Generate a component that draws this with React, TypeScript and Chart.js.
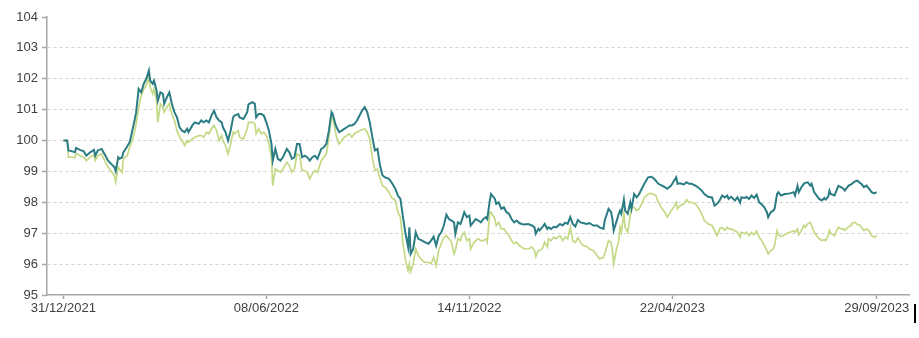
import React, { useEffect, useRef } from "react";
import { Chart, registerables } from "chart.js";

Chart.register(...registerables);

// Days elapsed since 31/12/2021
const dayOffsets = [
  0, 3, 4, 7, 9, 10, 13, 16, 18, 21,
  24, 25, 27, 30, 31, 33, 35, 38, 40, 41,
  43, 44, 46, 47, 50, 52, 54, 56, 57, 59,
  61, 63, 65, 67, 68, 70, 71, 73, 74, 76,
  78, 79, 81, 83, 85, 87, 89, 91, 93, 95,
  97, 98, 101, 103, 106, 108, 110, 112, 114, 116,
  118, 120, 122, 124, 125, 127, 129, 131, 133, 134,
  137, 138, 141, 144, 145, 148, 150, 151, 153, 155,
  157, 159, 161, 163, 164, 166, 168, 170, 172, 175,
  177, 179, 181, 183, 185, 187, 189, 191, 193, 195,
  197, 199, 202, 204, 206, 208, 210, 211, 213, 214,
  216, 218, 220, 222, 224, 226, 228, 230, 232, 234,
  236, 238, 240, 242, 244, 246, 248, 250, 252, 255,
  257, 260, 262, 264, 266, 268, 270, 271, 272, 274,
  276, 278, 281, 283, 286, 288, 290, 292, 294, 296,
  298, 300, 302, 304, 306, 307, 309, 311, 312, 314,
  316, 318, 319, 321, 323, 325, 327, 329, 331, 332,
  334, 335, 338, 339, 341, 343, 345, 347, 349, 351,
  353, 355, 357, 359, 361, 364, 367, 369, 370, 372,
  373, 375, 377, 379, 380, 382, 384, 386, 389, 391,
  393, 395, 397, 399, 401, 403, 405, 407, 410, 412,
  415, 418, 420, 423, 424, 427, 429, 430, 431, 433,
  435, 436, 437, 439, 440, 442, 444, 445, 447, 449,
  451, 453, 455, 458, 460, 462, 464, 466, 469, 471,
  473, 476, 478, 480, 481, 483, 486, 488, 490, 492,
  495, 497, 500, 502, 505, 508, 510, 512, 514, 516,
  518, 520, 521, 523, 526, 528, 530, 531, 534, 535,
  537, 539, 541, 543, 545, 547, 549, 551, 552, 554,
  556, 557, 559, 560, 562, 565, 566, 569, 572, 573,
  575, 576, 578, 580, 581, 583, 585, 586, 588, 590,
  592, 594, 596, 597, 599, 600, 601, 604, 605, 607,
  609, 611, 612, 615, 617, 618, 620, 622, 624, 625,
  627, 629, 631, 633, 635, 637,
];

const tealSeries = [
  100.0, 100.0, 99.68, 99.65, 99.62, 99.76, 99.70, 99.65, 99.51, 99.62,
  99.70, 99.51, 99.68, 99.73, 99.65, 99.51, 99.35, 99.22, 99.14, 99.01,
  99.46, 99.41, 99.46, 99.62, 99.81, 99.95, 100.32, 100.70, 100.92, 101.67,
  101.56, 101.84, 102.0, 102.27, 101.94, 101.84, 101.94, 101.62, 101.29, 101.56,
  101.51, 101.19, 101.40, 101.56, 101.19, 100.92, 100.75, 100.43, 100.32, 100.27,
  100.38, 100.27, 100.49, 100.59, 100.54, 100.65, 100.59, 100.65, 100.59, 100.81,
  100.97, 100.75, 100.65, 100.59, 100.43, 100.27, 100.0, 100.32, 100.75, 100.81,
  100.86, 100.75, 100.70, 100.92, 101.17, 101.24, 101.19, 100.75, 100.86, 100.86,
  100.81, 100.59, 100.32, 99.89, 99.35, 99.73, 99.41, 99.35, 99.46, 99.73,
  99.62, 99.41, 99.46, 99.89, 99.89, 99.46, 99.51, 99.46, 99.35, 99.46,
  99.51, 99.41, 99.73, 99.78, 99.89, 100.32, 100.92, 100.86, 100.54, 100.43,
  100.27, 100.32, 100.38, 100.43, 100.49, 100.49, 100.54, 100.65, 100.81, 100.97,
  101.08, 100.92, 100.59, 100.11, 99.68, 99.73, 99.19, 98.87, 98.81, 98.76,
  98.65, 98.44, 98.22, 98.11, 97.52, 96.98, 96.55, 97.19, 96.33, 96.49,
  97.03, 96.82, 96.76, 96.71, 96.66, 96.76, 96.89, 96.60, 96.92, 97.03,
  97.25, 97.60, 97.46, 97.41, 97.35, 96.98, 97.35, 97.30, 97.41, 97.68,
  97.52, 97.57, 97.25, 97.35, 97.46, 97.41, 97.35, 97.46, 97.52, 97.46,
  98.06, 98.27, 98.11, 97.95, 98.0, 97.79, 97.84, 97.68, 97.63, 97.46,
  97.35, 97.41, 97.33, 97.30, 97.28, 97.30, 97.25, 97.19, 96.98, 97.14,
  97.09, 97.19, 97.30, 97.14, 97.19, 97.14, 97.21, 97.19, 97.30, 97.25,
  97.34, 97.30, 97.52, 97.30, 97.22, 97.43, 97.35, 97.33, 97.30, 97.33,
  97.25, 97.25, 97.19, 97.14, 97.41, 97.79, 97.68, 97.46, 97.09, 97.35,
  97.63, 97.73, 97.63, 98.09, 97.73, 97.63, 98.0, 97.79, 98.27, 98.16,
  98.27, 98.44, 98.60, 98.81, 98.83, 98.79, 98.70, 98.60, 98.54, 98.49,
  98.44, 98.54, 98.68, 98.81, 98.60, 98.62, 98.58, 98.65, 98.60, 98.60,
  98.54, 98.49, 98.38, 98.27, 98.18, 98.16, 97.89, 97.95, 98.06, 98.22,
  98.16, 98.22, 98.11, 98.18, 98.06, 98.16, 97.99, 98.16, 98.14, 98.18,
  98.11, 98.22, 98.14, 98.25, 98.0, 97.93, 97.84, 97.68, 97.52, 97.68,
  97.73, 97.79, 98.27, 98.33, 98.22, 98.27, 98.27, 98.29, 98.33, 98.22,
  98.53, 98.33, 98.49, 98.60, 98.63, 98.65, 98.54, 98.60, 98.33, 98.22,
  98.11, 98.06, 98.14, 98.09, 98.18, 98.38, 98.27, 98.22, 98.33, 98.53,
  98.49, 98.44, 98.38, 98.54, 98.58, 98.62, 98.68, 98.70, 98.62, 98.60,
  98.49, 98.54, 98.44, 98.33, 98.29, 98.33,
];

const greenSeries = [
  100.0, 100.0, 99.46, 99.46, 99.44, 99.59, 99.51, 99.46, 99.35, 99.46,
  99.54, 99.35, 99.51, 99.57, 99.46, 99.30, 99.14, 98.97, 98.87, 98.65,
  99.14, 99.08, 98.97, 99.41, 99.51, 99.78, 100.0, 100.32, 100.54, 101.08,
  101.45, 101.67, 101.78, 102.05, 101.73, 101.51, 101.67, 101.29, 100.59, 101.19,
  101.08, 100.92, 101.08, 101.19, 100.86, 100.65, 100.32, 100.11, 100.0, 99.84,
  100.0, 99.95, 100.05, 100.11, 100.16, 100.16, 100.11, 100.27, 100.22, 100.38,
  100.49, 100.32, 100.0, 100.16, 100.0, 99.84, 99.57, 99.89, 100.27, 100.22,
  100.32, 100.11, 100.05, 100.38, 100.59, 100.59, 100.54, 100.22, 100.38, 100.22,
  100.27, 100.16, 99.89, 99.46, 98.54, 99.08, 99.03, 98.97, 99.08, 99.30,
  99.19, 98.97, 99.08, 99.57, 99.51, 99.03, 99.03, 98.97, 98.76, 98.92,
  99.03, 98.97, 99.35, 99.46, 99.57, 100.11, 100.75, 100.75, 100.32, 100.11,
  99.89, 100.0, 100.11, 100.16, 100.22, 100.11, 100.22, 100.27, 100.32, 100.35,
  100.38, 100.27, 100.05, 99.46, 99.03, 99.08, 98.76, 98.54, 98.49, 98.33,
  98.16, 98.06, 97.68, 97.52, 96.66, 96.12, 95.79, 96.01, 95.75, 96.01,
  96.49, 96.28, 96.12, 96.06, 96.06, 96.01, 96.22, 95.95, 96.44, 96.66,
  96.87, 96.92, 96.82, 96.71, 96.33, 96.44, 96.82, 96.76, 96.92, 97.03,
  96.76, 96.82, 96.49, 96.66, 96.76, 96.82, 96.76, 96.76, 96.82, 96.71,
  97.68, 97.68, 97.46, 97.25, 97.35, 97.14, 97.14, 97.03, 96.92, 96.76,
  96.66, 96.71, 96.60, 96.55, 96.49, 96.49, 96.55, 96.44, 96.24, 96.44,
  96.44, 96.49, 96.71, 96.55, 96.82, 96.76, 96.87, 96.82, 96.92, 96.76,
  96.88, 96.82, 97.19, 96.76, 96.70, 96.85, 96.71, 96.60, 96.57, 96.49,
  96.44, 96.28, 96.17, 96.22, 96.33, 96.76, 96.71, 96.44, 96.01, 96.44,
  96.76, 97.19, 97.03, 97.63, 97.19, 97.03, 97.57, 97.84, 97.84, 97.73,
  97.79, 97.95, 98.16, 98.27, 98.29, 98.27, 98.22, 98.0, 97.79, 97.68,
  97.52, 97.73, 97.84, 98.0, 97.79, 97.89, 97.95, 98.09, 98.0, 98.0,
  97.95, 97.84, 97.63, 97.41, 97.30, 97.25, 97.09, 96.92, 97.14, 97.19,
  97.09, 97.19, 97.14, 97.14, 97.08, 97.03, 96.87, 97.03, 96.98, 97.03,
  96.92, 97.03, 96.95, 97.08, 96.87, 96.76, 96.60, 96.44, 96.33, 96.44,
  96.49, 96.60, 97.08, 96.95, 96.89, 96.95, 96.98, 97.03, 97.08, 97.03,
  97.14, 96.95, 97.09, 97.25, 97.19, 97.30, 97.35, 97.25, 97.03, 96.92,
  96.82, 96.76, 96.79, 96.76, 96.92, 97.09, 97.0, 96.92, 97.03, 97.19,
  97.14, 97.14, 97.09, 97.21, 97.25, 97.33, 97.35, 97.28, 97.25, 97.19,
  97.09, 97.14, 97.08, 96.92, 96.87, 96.92,
];

// X tick positions (days since 31/12/2021): 31/12/2021, 08/06/2022, 14/11/2022, 22/04/2023, 29/09/2023
const xTickDays = [0, 159, 318, 477, 637];
const yTickValues = [95, 96, 97, 98, 99, 100, 101, 102, 103, 104];

function formatDay(day: number): string {
  const d = new Date(Date.UTC(2021, 11, 31) + Math.round(day) * 86400000);
  const dd = String(d.getUTCDate()).padStart(2, "0");
  const mm = String(d.getUTCMonth() + 1).padStart(2, "0");
  return `${dd}/${mm}/${d.getUTCFullYear()}`;
}

const AXIS_GREY = "#a6a6a6";
const FONT = { family: "'Liberation Sans', Arial, sans-serif", size: 13 };

export default function App() {
  const canvasRef = useRef<HTMLCanvasElement | null>(null);

  useEffect(() => {
    const canvas = canvasRef.current;
    if (!canvas) return;
    const chart = new Chart(canvas, {
      type: "line",
      data: {
        datasets: [
          {
            label: "A",
            data: dayOffsets.map((d, i) => ({ x: d, y: tealSeries[i] })),
            borderColor: "#2b7d83",
            borderWidth: 2,
            pointRadius: 0,
            tension: 0,
            fill: false,
          },
          {
            label: "B",
            data: dayOffsets.map((d, i) => ({ x: d, y: greenSeries[i] })),
            borderColor: "#c4d985",
            borderWidth: 1.7,
            pointRadius: 0,
            tension: 0,
            fill: false,
          },
        ],
      },
      options: {
        animation: false,
        responsive: false,
        maintainAspectRatio: false,
        events: [],
        layout: { padding: { top: 17, right: 10, bottom: 0, left: 0 } },
        plugins: {
          legend: { display: false },
          tooltip: { enabled: false },
          title: { display: false },
        },
        scales: {
          x: {
            type: "linear",
            min: -12.8,
            max: 662.3,
            afterBuildTicks: (scale: any) => {
              scale.ticks = xTickDays.map((v) => ({ value: v }));
            },
            afterFit: (scale: any) => {
              scale.height = 43;
            },
            ticks: {
              autoSkip: false,
              maxRotation: 0,
              padding: 2,
              color: "#404040",
              font: FONT,
              callback: (v: any) => formatDay(Number(v)),
            },
            grid: {
              drawOnChartArea: false,
              drawTicks: true,
              tickLength: 4,
              tickColor: AXIS_GREY,
              tickWidth: 1.5,
            },
            border: { display: true, color: AXIS_GREY, width: 1.5 },
          },
          y: {
            type: "linear",
            min: 95,
            max: 104,
            afterBuildTicks: (scale: any) => {
              scale.ticks = yTickValues.map((v) => ({ value: v }));
            },
            afterFit: (scale: any) => {
              scale.width = 47;
            },
            ticks: {
              padding: 4,
              color: "#404040",
              font: FONT,
              callback: (v: any) => String(v),
            },
            grid: {
              color: (ctx: any) =>
                ctx.tick && (ctx.tick.value === 104 || ctx.tick.value === 95)
                  ? "rgba(0,0,0,0)"
                  : "#d4d4d4",
              lineWidth: 1,
              drawTicks: true,
              tickLength: 5,
              tickColor: AXIS_GREY,
              tickWidth: 1.5,
            },
            border: { display: true, color: AXIS_GREY, width: 1.5, dash: [3, 3] },
          },
        },
      },
    } as any);
    return () => chart.destroy();
  }, []);

  return (
    <div style={{ position: "absolute", left: 0, top: 0, width: 919, height: 338, background: "#fff" }}>
      <canvas ref={canvasRef} width={919} height={338} style={{ display: "block", width: 919, height: 338 }} />
      <div style={{ position: "absolute", left: 914, top: 304, width: 2, height: 19, background: "#000" }} />
    </div>
  );
}
